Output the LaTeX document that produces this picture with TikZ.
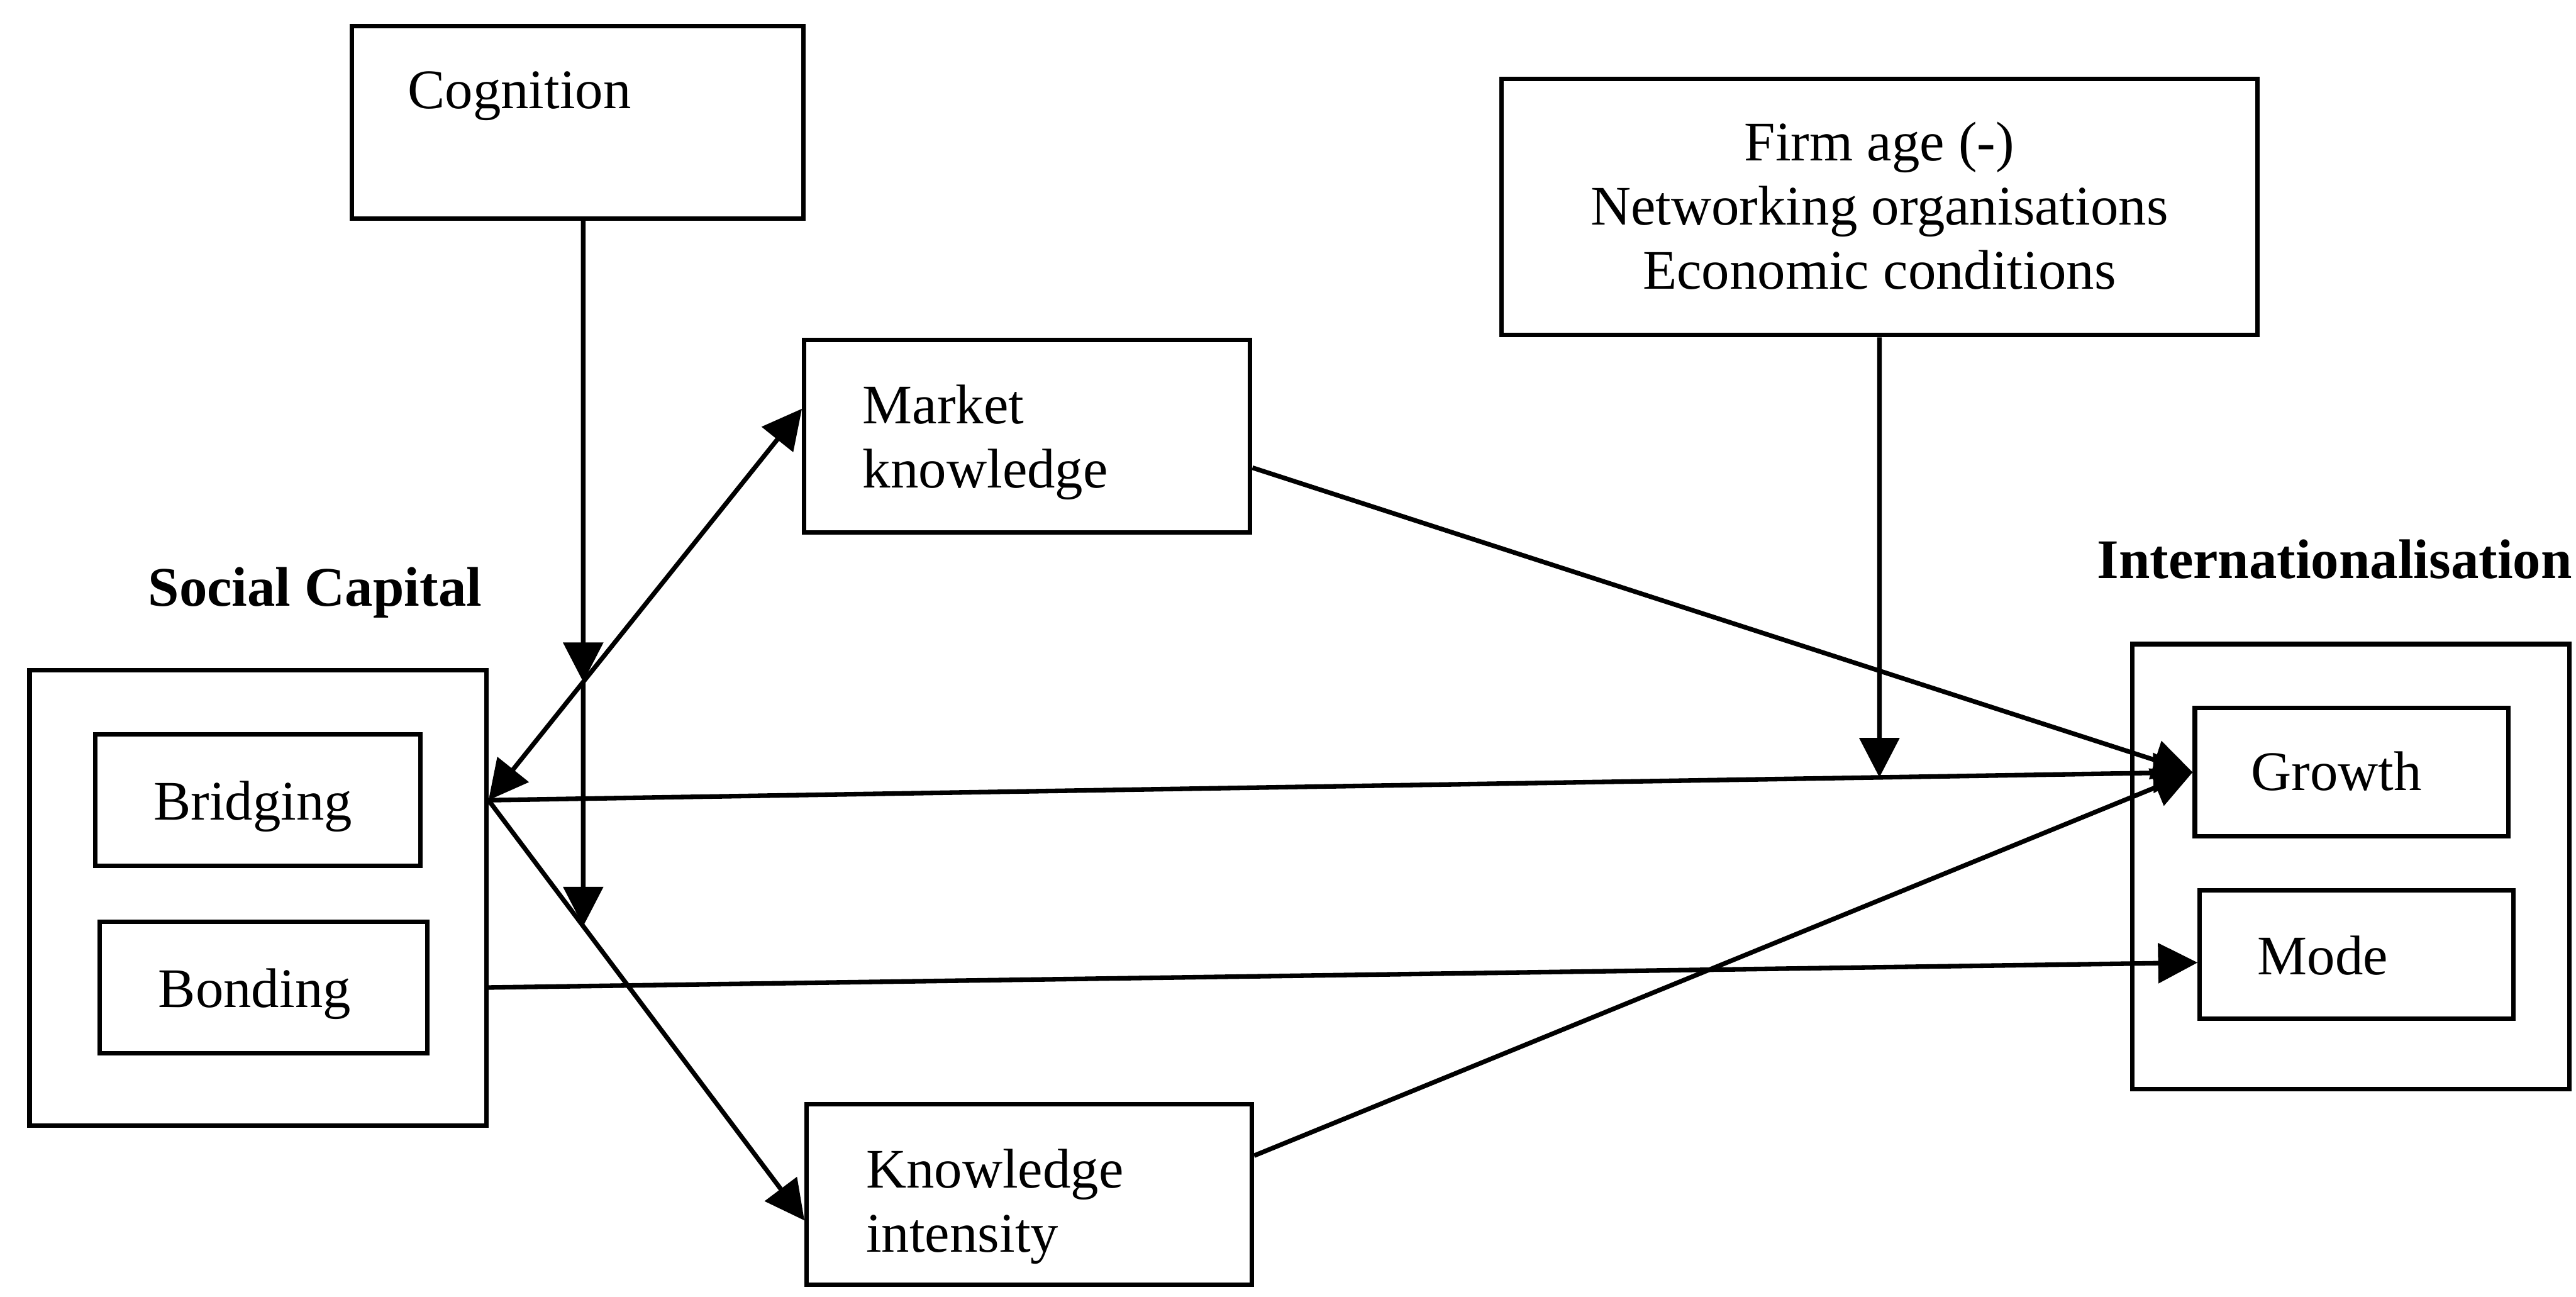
\documentclass[tikz,border=0pt]{standalone}
\usepackage{fontspec}
\setmainfont{Liberation Serif}
\usetikzlibrary{arrows.meta,calc}

\begin{document}
\begin{tikzpicture}[x=1pt,y=-1pt,
  box/.style={draw, line width=2.7pt, inner sep=0pt},
  txt/.style={font=\fontsize{34pt}{38pt}\selectfont, inner sep=0pt},
  heading/.style={font=\fontsize{34pt}{38pt}\selectfont\bfseries, inner sep=0pt},
  link/.style={line width=2.8pt},
  >={Triangle[length=24pt,width=24pt]},
]
\useasboundingbox (0,0) rectangle (1568,789);

% boxes
\node[box, minimum width=275pt,   minimum height=117pt] (cog)  at (351.5,74.5)  {};
\node[box, minimum width=271.5pt, minimum height=117pt] (mkt)  at (625.25,265.5) {};
\node[box, minimum width=460pt,   minimum height=156pt] (firm) at (1144,126)    {};
\node[box, minimum width=271pt,   minimum height=110pt] (ki)   at (626.5,727)   {};
\node[box, minimum width=278pt,   minimum height=277pt] (sc)   at (157,546.5)   {};
\node[box, minimum width=198pt,   minimum height=80pt]  (bri)  at (157,487)     {};
\node[box, minimum width=199.5pt, minimum height=80pt]  (bon)  at (160.25,601)  {};
\node[box, minimum width=266pt,   minimum height=271pt] (intl) at (1431,527.5)  {};
\node[box, minimum width=191pt,   minimum height=78pt]  (gro)  at (1431.5,470)  {};
\node[box, minimum width=191pt,   minimum height=78pt]  (mod)  at (1434.5,581)  {};

% texts
\node[txt, anchor=base west] (tcog)  at (248,66)   {Cognition};
\node[txt, anchor=base west] (tmkt1) at (525,258)  {Market};
\node[txt, anchor=base west] (tmkt2) at (525,297)  {knowledge};
\node[txt, anchor=base]      (tf1)   at (1144,98)  {Firm age (-)};
\node[txt, anchor=base]      (tf2)   at (1144,137) {Networking organisations};
\node[txt, anchor=base]      (tf3)   at (1144,176) {Economic conditions};
\node[txt, anchor=base west] (tki1)  at (527,723)  {Knowledge};
\node[txt, anchor=base west] (tki2)  at (527,762)  {intensity};
\node[txt, anchor=base]      (tbri)  at (154,499)  {Bridging};
\node[txt, anchor=base]      (tbon)  at (155,613)  {Bonding};
\node[txt, anchor=base west] (tgro)  at (1370,481) {Growth};
\node[txt, anchor=base west] (tmod)  at (1374,593) {Mode};
\node[heading, anchor=base west] (tsc)  at (90,369)   {Social Capital};
\node[heading, anchor=base]      (tint) at (1421,352) {Internationalisation};

% connector end points
\coordinate (bout)    at (sc.east |- bri.center);
\coordinate (bonout)  at (sc.east |- bon.center);
\coordinate (mktin)   at ($(mkt.north west)!0.36!(mkt.south west)$);
\coordinate (mktout)  at ($(mkt.north east)!0.66!(mkt.south east)$);
\coordinate (kiin)    at ($(ki.north west)!0.64!(ki.south west)$);
\coordinate (kiout)   at ($(ki.north east)!0.29!(ki.south east)$);
\coordinate (groin)   at (gro.west);
\coordinate (modin)   at ($(mod.north west)!0.56!(mod.south west)$);
\coordinate (cogtop)  at ($(cog.south)+(3.5,0)$);
\coordinate (cogfar)  at ($(cogtop)+(0,700)$);
\coordinate (firmtop) at (firm.south);
\coordinate (firmfar) at ($(firmtop)+(0,700)$);
\coordinate (cogm1)   at (intersection of cogtop--cogfar and bout--mktin);
\coordinate (cogm2)   at (intersection of cogtop--cogfar and bout--kiin);
\coordinate (firmm)   at (intersection of firmtop--firmfar and bout--groin);

% paths
\draw[link, <->] (bout) -- (mktin);
\draw[link, ->] (bout) -- (kiin);
\draw[link, ->] (bout) -- (groin);
\draw[link, ->] (mktout) -- (groin);
\draw[link, ->] (kiout) -- (groin);
\draw[link, ->] (bonout) -- (modin);

% moderating effects
\draw[link, ->] (cogtop) -- (cogm1);
\draw[link, ->] (cogm1) -- (cogm2);
\draw[link, ->] (firmtop) -- (firmm);
\end{tikzpicture}
\end{document}
